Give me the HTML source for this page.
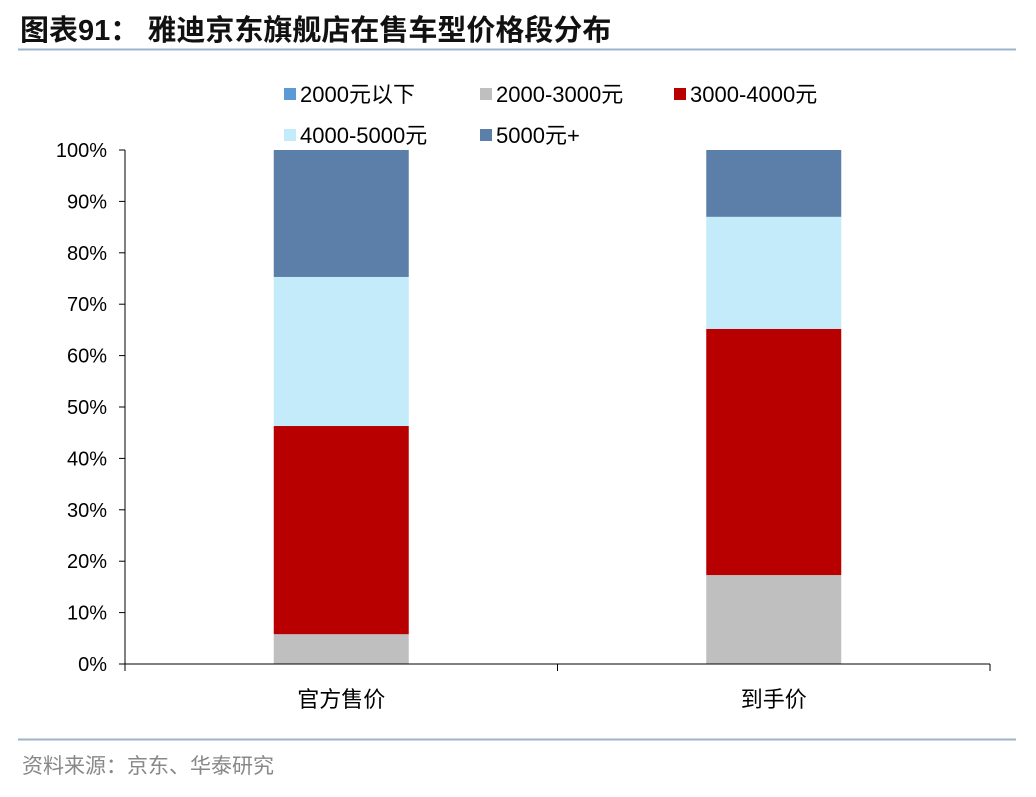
<!DOCTYPE html>
<html><head><meta charset="utf-8"><style>
body{margin:0;background:#fff;width:1036px;height:792px;overflow:hidden;font-family:"Liberation Sans","Noto Sans CJK SC",sans-serif;}
svg text{font-family:"Liberation Sans","Noto Sans CJK SC",sans-serif;}
</style></head><body>
<svg width="1036" height="792">
<text x="20" y="40" font-size="29" font-weight="bold" fill="#111">图表91：  雅迪京东旗舰店在售车型价格段分布</text>
<line x1="18" y1="49.5" x2="1016" y2="49.5" stroke="#9db3cc" stroke-width="2"/>
<g id="legend"></g>
<g id="plot"></g>
<line x1="18" y1="739.5" x2="1016" y2="739.5" stroke="#9db3cc" stroke-width="2"/>
<text x="22" y="773" font-size="21" fill="#888">资料来源：京东、华泰研究</text>
</svg>
<script>
const categories=["官方售价","到手价"];
const seriesNames=["2000元以下","2000-3000元","3000-4000元","4000-5000元","5000元+"];
const s2000below=[0,0];
const s2000to3000=[5.8,17.3];
const s3000to4000=[40.5,47.9];
const s4000to5000=[29.0,21.8];
const s5000plus=[24.7,13.0];
const yTicks=["0%","10%","20%","30%","40%","50%","60%","70%","80%","90%","100%"];
const colors=["#5b9bd5","#bfbfbf","#b80000","#c3ebf9","#5b7fa8"];
const series=[s2000below,s2000to3000,s3000to4000,s4000to5000,s5000plus];
const NS="http://www.w3.org/2000/svg";
const x0=125,x1=990,y0=664,y100=150;
const y=v=>y0-(v/100)*(y0-y100);
const band=(x1-x0)/categories.length;
const xc=i=>x0+band*(i+0.5);
const bw=135;
const plot=document.getElementById('plot');
function mk(tag,attrs,parent){const e=document.createElementNS(NS,tag);for(const k in attrs)e.setAttribute(k,attrs[k]);parent.appendChild(e);return e;}
yTicks.forEach((t,i)=>{
  const v=i*10;
  const tk=mk('line',{x1:x0-6,x2:x0,y1:y(v),y2:y(v),stroke:'#000'},plot);
  
  
  const tx=mk('text',{x:107,y:y(v)+7,'font-size':20,'text-anchor':'end',fill:'#000'},plot);
  tx.textContent=t;
  
  
});
categories.forEach((c,i)=>{
  let acc=0;
  series.forEach((s,k)=>{
    const v=s[i];
    if(v>0){
      const r=mk('rect',{x:xc(i)-bw/2,y:y(acc+v),width:bw,height:y(acc)-y(acc+v),fill:colors[k]},plot);
      
      
    }
    acc+=v;
  });
  const tx=mk('text',{x:xc(i),y:707,'font-size':22,'text-anchor':'middle',fill:'#000'},plot);
  tx.textContent=c;
  
  
});
const ya=mk('line',{x1:x0,x2:x0,y1:y100,y2:y0,stroke:'#000'},plot);


const xa=mk('line',{x1:x0,x2:x1,y1:y0,y2:y0,stroke:'#000'},plot);


for(let i=0;i<=categories.length;i++){
  const t=mk('line',{x1:x0+band*i,x2:x0+band*i,y1:y0,y2:y0+7,stroke:'#000'},plot);
  
  
}
const leg=document.getElementById('legend');
const lpos=[[284,94],[480,94],[674,94],[284,135],[480,135]];
seriesNames.forEach((n,k)=>{
  const g=mk('g',{},leg);
  
  
  mk('rect',{x:lpos[k][0],y:lpos[k][1]-6,width:12,height:12,fill:colors[k]},g);
  const t=mk('text',{x:lpos[k][0]+16,y:lpos[k][1]+8,'font-size':22,fill:'#000'},g);
  t.textContent=n;
});
</script>
</body></html>
